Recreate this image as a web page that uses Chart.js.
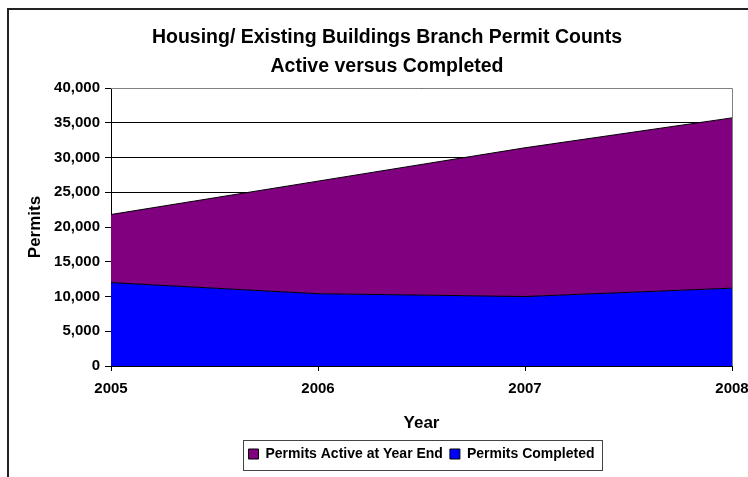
<!DOCTYPE html>
<html>
<head>
<meta charset="utf-8">
<script src="https://cdn.jsdelivr.net/npm/chart.js@4.4.1/dist/chart.umd.min.js"></script>
<style>
  html, body { margin: 0; padding: 0; background: #fff; }
  canvas { display: block; }
</style>
</head>
<body>
<canvas id="permitChart" width="748" height="477"></canvas>
<script>
// Permit counts per year
const years = ['2005', '2006', '2007', '2008'];
const permitsCompleted = [12000, 10400, 10000, 11200];
const permitsActive = [9800, 16200, 21400, 24500];
const yTicks = [0, 5000, 10000, 15000, 20000, 25000, 30000, 35000, 40000];

const ctx = document.getElementById('permitChart');
const fontFamily = '"Liberation Sans", Arial, Helvetica, sans-serif';

// white background, outer frame, plot frame and legend box
const frames = {
    id: 'frames',
    beforeDraw(chart) {
        const c = chart.ctx;
        c.save();
        c.fillStyle = '#fff';
        c.fillRect(0, 0, chart.width, chart.height);
        c.strokeStyle = '#222';
        c.lineWidth = 2;
        c.strokeRect(8, 9, 900, 700);
        c.restore();
    },
    afterDatasetsDraw(chart) {
        const a = chart.chartArea;
        const c = chart.ctx;
        c.save();
        c.strokeStyle = '#808080';
        c.lineWidth = 1;
        c.beginPath();
        c.moveTo(a.left, Math.round(a.top) + 0.5);
        c.lineTo(Math.round(a.right) + 0.5, Math.round(a.top) + 0.5);
        c.lineTo(Math.round(a.right) + 0.5, a.bottom);
        c.stroke();
        c.restore();
    },
    afterDraw(chart) {
        const boxes = chart.legend && chart.legend.legendHitBoxes;
        if (!boxes || !boxes.length) return;
        let left = Infinity, right = -Infinity, top = Infinity, bottom = -Infinity;
        boxes.forEach(b => {
            left = Math.min(left, b.left);
            right = Math.max(right, b.left + b.width);
            top = Math.min(top, b.top);
            bottom = Math.max(bottom, b.top + b.height);
        });
        const c = chart.ctx;
        c.save();
        c.strokeStyle = '#444';
        c.lineWidth = 1;
        c.strokeRect(Math.round(left - 6) + 0.5, Math.round(top - 7) + 0.5,
            Math.round(right - left + 13), Math.round(bottom - top + 16));
        c.restore();
    }
};

new Chart(ctx, {
    type: 'line',
    data: {
        labels: years,
        datasets: [{
            label: 'Permits Completed',
            data: permitsCompleted,
            backgroundColor: '#0000FF',
            borderColor: '#000',
            borderWidth: 1,
            fill: 'origin',
            pointRadius: 0,
            tension: 0
        }, {
            label: 'Permits Active at Year End',
            data: permitsActive,
            backgroundColor: '#800080',
            borderColor: '#000',
            borderWidth: 1,
            fill: '-1',
            pointRadius: 0,
            tension: 0
        }]
    },
    plugins: [frames],
    options: {
        responsive: false,
        animation: false,
        events: [],
        layout: {
            padding: { left: 26, right: 0, top: 0, bottom: 6 }
        },
        plugins: {
            title: {
                display: true,
                text: ['Housing/ Existing Buildings Branch Permit Counts', 'Active versus Completed'],
                color: '#000',
                font: { family: fontFamily, size: 19.5, weight: 'bold', lineHeight: '29px' },
                padding: { top: 23, bottom: 7 }
            },
            legend: {
                position: 'bottom',
                fullSize: false,
                reverse: true,
                labels: {
                    color: '#000',
                    boxWidth: 10,
                    boxHeight: 10,
                    padding: 7,
                    font: { family: fontFamily, size: 14, weight: 'bold' }
                }
            },
            tooltip: { enabled: false },
            filler: { propagate: false }
        },
        scales: {
            x: {
                offset: false,
                afterFit(scale) {
                    scale.height = 74;
                    scale.paddingRight = 16;
                },
                grid: {
                    drawOnChartArea: false,
                    drawTicks: true,
                    tickLength: 5,
                    color: '#000'
                },
                border: { display: true, color: '#000' },
                ticks: {
                    color: '#000',
                    padding: 9,
                    maxRotation: 0,
                    font: { family: fontFamily, size: 15, weight: 'bold' }
                },
                title: {
                    display: true,
                    text: 'Year',
                    color: '#000',
                    font: { family: fontFamily, size: 17, weight: 'bold' },
                    padding: { top: 0, bottom: 6 }
                }
            },
            y: {
                stacked: true,
                min: 0,
                max: 40000,
                afterFit(scale) { scale.width = 85; },
                afterBuildTicks(scale) { scale.ticks = yTicks.map(v => ({ value: v })); },
                grid: {
                    color: '#000',
                    drawTicks: true,
                    tickLength: 6
                },
                border: { display: true, color: '#000' },
                ticks: {
                    color: '#000',
                    padding: 5,
                    font: { family: fontFamily, size: 15, weight: 'bold' },
                    callback: v => Number(v).toLocaleString('en-US')
                },
                title: {
                    display: true,
                    text: 'Permits',
                    color: '#000',
                    font: { family: fontFamily, size: 17, weight: 'bold', lineHeight: 1.1 },
                    padding: { top: 0, bottom: 0 }
                }
            }
        }
    }
});
</script>
</body>
</html>
